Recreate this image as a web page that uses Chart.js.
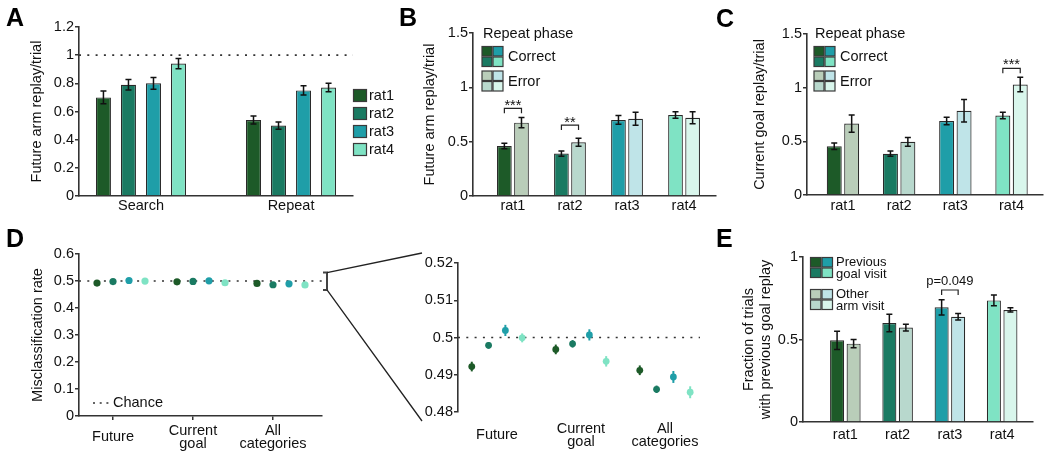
<!DOCTYPE html>
<html><head><meta charset="utf-8">
<script src="https://cdn.jsdelivr.net/npm/chart.js@4.4.1/dist/chart.umd.min.js"></script>
<style>
html,body{margin:0;padding:0;background:#fff;}
#fig{position:relative;width:1050px;height:457px;overflow:hidden;background:#fff;}
#fig canvas{position:absolute;left:0;top:0;}
</style></head><body>
<div id="fig">
<canvas id="cA" width="1050" height="457"></canvas>
<canvas id="cB" width="1050" height="457"></canvas>
<canvas id="cC" width="1050" height="457"></canvas>
<canvas id="cDL" width="1050" height="457"></canvas>
<canvas id="cDR" width="1050" height="457"></canvas>
<canvas id="cE" width="1050" height="457"></canvas>
<canvas id="cDeco" width="1050" height="457"></canvas>
</div>
<script>
// ---------------- data ----------------
const rats = ['rat1','rat2','rat3','rat4'];
const phaseLabels = ['Search','Repeat'];
const searchRate = [0.70, 0.79, 0.80, 0.94];
const searchErr  = [0.045, 0.037, 0.042, 0.036];
const repeatRate = [0.54, 0.50, 0.75, 0.77];
const repeatErr  = [0.028, 0.026, 0.033, 0.030];
const refLineA = 1;

const futureCorrect    = [0.46, 0.39, 0.70, 0.745];
const futureCorrectErr = [0.025, 0.025, 0.040, 0.030];
const futureError      = [0.675, 0.495, 0.71, 0.72];
const futureErrorErr   = [0.048, 0.037, 0.060, 0.055];

const goalCorrect    = [0.455, 0.385, 0.69, 0.74];
const goalCorrectErr = [0.030, 0.025, 0.035, 0.030];
const goalError      = [0.665, 0.495, 0.785, 1.03];
const goalErrorErr   = [0.080, 0.040, 0.105, 0.067];

const decodeCats   = [['Future'], ['Current','goal'], ['All','categories']];
const misFuture    = [0.4922, 0.4979, 0.5019, 0.4999];
const misFutureErr = [0.0013, 0.0009, 0.0015, 0.0012];
const misGoal      = [0.4968, 0.4983, 0.5007, 0.4936];
const misGoalErr   = [0.0013, 0.0010, 0.0015, 0.0014];
const misAll       = [0.4912, 0.4861, 0.4894, 0.4853];
const misAllErr    = [0.0013, 0.0010, 0.0016, 0.0016];
const chanceLevel = 0.5;
const zoomRange = [0.48, 0.52];

const prevGoal    = [0.495, 0.60, 0.695, 0.737];
const prevGoalErr = [0.055, 0.053, 0.046, 0.033];
const otherArm    = [0.475, 0.572, 0.638, 0.679];
const otherArmErr = [0.025, 0.020, 0.020, 0.013];

const ticksA  = [0, 0.2, 0.4, 0.6, 0.8, 1, 1.2];
const ticksBC = [0, 0.5, 1, 1.5];
const ticksDL = [0, 0.1, 0.2, 0.3, 0.4, 0.5, 0.6];
const ticksDR = [0.48, 0.49, 0.5, 0.51, 0.52];
const ticksE  = [0, 0.5, 1];

const sigB = [{rat:0, y:0.807, text:'***'}, {rat:1, y:0.653, text:'**'}];
const sigC = [{rat:3, y:1.18, text:'***'}];
const sigE = [{rat:2, y:0.80, text:'p=0.049'}];

// ---------------- style ----------------
const ratColors = ['#1d5a28','#1a7a62','#1f9ea8','#7fe3c4'];
const ratLight  = ['#b9cdb9','#b8d8cd','#bfe4e8','#d9f6ec'];
const gridOrder = [0, 2, 1, 3];
const FONT = '"Liberation Sans", Arial, Helvetica, sans-serif';
const FS = 14.5;
const AX = '#333';
const TXT = '#111';
const EDGE = '#2a2a2a';
Chart.defaults.font.family = FONT;
Chart.defaults.font.size = FS;
Chart.defaults.color = TXT;

function yWidth(area, titleX){ return titleX ? area.l - (titleX - FS*1.2/2) : 40; }

function yAxis(o){
  return {
    type:'linear', position:'left', min:o.min, max:o.max,
    afterBuildTicks: s => { s.ticks = o.ticks.map(v => ({value:v})); },
    afterFit: s => { s.width = o.w; },
    grid:{display:true, drawOnChartArea:false, drawTicks:true, tickLength:4, color:AX, lineWidth:1.5},
    border:{display:true, color:AX, width:1.6},
    ticks:{padding:1, color:TXT, font:{size:FS}, callback: v => String(+(+v).toFixed(3))},
    title: o.title ? {display:true, text:o.title, color:TXT, padding:0, font:{size:FS, lineHeight:1.2}} : {display:false}
  };
}
function xAxis(o){
  return {
    type:'linear', position:'bottom', min:o.min, max:o.max, offset:false,
    afterBuildTicks: s => { s.ticks = o.tickVals.map(v => ({value:v})); },
    afterFit: s => { s.height = o.h; },
    grid:{display:!!o.marks, drawOnChartArea:false, drawTicks:!!o.marks, tickLength:4, color:AX, lineWidth:1.5, offset:false},
    border:{display:o.border !== false, color:AX, width:1.6},
    ticks:{padding:o.pad, color:TXT, font:{size:FS, lineHeight:o.lh || 1.2}, maxRotation:0, minRotation:0,
           autoSkip:false, crossAlign:o.cross || 'near', callback:(v, i) => o.labels[i]}
  };
}

function drawErr(chart, before){
  const ctx = chart.ctx;
  chart.data.datasets.forEach((ds, di) => {
    if (!ds.errors) return;
    const isPt = ds.errStyle === 'point';
    if (isPt !== before) return;
    const meta = chart.getDatasetMeta(di);
    const ys = chart.scales[meta.yAxisID];
    ctx.save();
    ctx.lineWidth = isPt ? 2 : 1.5;
    ctx.strokeStyle = isPt ? ds.backgroundColor : '#111';
    meta.data.forEach((el, i) => {
      const v = ds.data[i].y, e = ds.errors[i];
      const x = el.x, y1 = ys.getPixelForValue(v - e), y2 = ys.getPixelForValue(v + e);
      ctx.beginPath(); ctx.moveTo(x, y1); ctx.lineTo(x, y2);
      if (!isPt){ ctx.moveTo(x-3, y1); ctx.lineTo(x+3, y1); ctx.moveTo(x-3, y2); ctx.lineTo(x+3, y2); }
      ctx.stroke();
    });
    ctx.restore();
  });
}
const errorBarPlugin = {
  id:'errorBars',
  beforeDatasetsDraw(chart){ drawErr(chart, true); },
  afterDatasetsDraw(chart){ drawErr(chart, false); }
};
function sigPlugin(items, fontSize, dy){
  return {
    id:'sig',
    afterDatasetsDraw(chart){
      const ctx = chart.ctx, ys = chart.scales.y;
      const m0 = chart.getDatasetMeta(0), m1 = chart.getDatasetMeta(1);
      items.forEach(it => {
        const xl = m0.data[it.rat].x, xr = m1.data[it.rat].x;
        const yt = ys.getPixelForValue(it.y), yb = yt + 5;
        ctx.save();
        ctx.strokeStyle = '#222'; ctx.lineWidth = 1.2;
        ctx.beginPath(); ctx.moveTo(xl, yb); ctx.lineTo(xl, yt); ctx.lineTo(xr, yt); ctx.lineTo(xr, yb); ctx.stroke();
        ctx.fillStyle = TXT; ctx.font = fontSize + 'px ' + FONT;
        ctx.textAlign = 'center'; ctx.textBaseline = 'alphabetic';
        ctx.fillText(it.text, (xl + xr) / 2, yt + dy);
        ctx.restore();
      });
    }
  };
}
function cell(ctx, x, y, w, h, color){
  ctx.fillStyle = color; ctx.fillRect(x, y, w, h);
  ctx.strokeStyle = '#3a3a3a'; ctx.lineWidth = 1.2; ctx.strokeRect(x, y, w, h);
}
function grid2(ctx, x, y, cw, ch, cols){
  gridOrder.forEach((ri, k) => {
    const cx = x + (k % 2) * (cw + 1), cy = y + Math.floor(k / 2) * (ch + 1);
    cell(ctx, cx, cy, cw, ch, cols[ri]);
  });
}
function txt(ctx, s, x, y, size){
  ctx.fillStyle = TXT; ctx.font = (size || FS) + 'px ' + FONT;
  ctx.textAlign = 'left'; ctx.textBaseline = 'middle'; ctx.fillText(s, x, y);
}
function phaseLegend(x0){
  return {
    id:'phaseLegend',
    afterDraw(chart){
      const ctx = chart.ctx; ctx.save();
      txt(ctx, 'Repeat phase', x0 + 1, 34);
      grid2(ctx, x0, 46.5, 10, 9.5, ratColors);
      txt(ctx, 'Correct', x0 + 26, 56.5);
      grid2(ctx, x0, 71, 10, 9.5, ratLight);
      txt(ctx, 'Error', x0 + 26, 81.5);
      ctx.restore();
    }
  };
}

function mk(id, type, datasets, area, yOpts, xOpts, plugins){
  const w = yWidth(area, yOpts.titleX);
  yOpts.w = w;
  xOpts.h = 457 - area.b;
  return new Chart(document.getElementById(id), {
    type,
    data:{datasets},
    options:{
      responsive:false, maintainAspectRatio:false, animation:false, events:[], devicePixelRatio:1,
      layout:{autoPadding:false, padding:{left:area.l - w, right:1050 - area.r, top:area.t, bottom:0}},
      scales:{x:xAxis(xOpts), y:yAxis(yOpts)},
      plugins:{legend:{display:false}, tooltip:{enabled:false}}
    },
    plugins:[errorBarPlugin].concat(plugins || [])
  });
}
function dotted(x0, x1, y){
  return {type:'line', data:[{x:x0, y}, {x:x1, y}], borderColor:AX, borderWidth:1.7,
          borderDash:[2, 6.3], pointRadius:0, order:10, fill:false};
}
function barSet(vals, errs, colors, cp, bp){
  return {type:'bar', data:vals.map((v, i) => ({x:i, y:v})), errors:errs, backgroundColor:colors,
          borderColor:EDGE, borderWidth:1.2, categoryPercentage:cp, barPercentage:bp};
}

// ---------------- Panel A ----------------
const areaA = {l:79, r:353, t:27, b:196};
const xA = [-0.413, 1.413];
const phaseRates = [searchRate, repeatRate];
const phaseErrs = [searchErr, repeatErr];
const dsA = rats.map((r, i) => ({
  type:'bar', label:r,
  data: phaseLabels.map((p, g) => ({x:g, y:phaseRates[g][i]})),
  errors: phaseErrs.map(e => e[i]),
  backgroundColor: ratColors[i], borderColor:EDGE, borderWidth:1.2,
  categoryPercentage:0.667, barPercentage:0.6
}));
dsA.push(dotted(xA[0], xA[1] + 0.015, refLineA));
const legendA = {
  id:'legendA',
  afterDraw(chart){
    const ctx = chart.ctx; ctx.save();
    rats.forEach((r, i) => {
      const cy = 95.5 + i * 18;
      cell(ctx, 353.5, cy - 6, 13, 12, ratColors[i]);
      txt(ctx, r, 369, cy + 0.5);
    });
    ctx.restore();
  }
};
mk('cA', 'bar', dsA, areaA,
   {min:0, max:1.2, ticks:ticksA, title:'Future arm replay/trial', titleX:37},
   {min:xA[0], max:xA[1], tickVals:[0, 1], labels:phaseLabels, pad:1}, [legendA]);

// ---------------- Panel B ----------------
const areaB = {l:473, r:716, t:33, b:196};
mk('cB', 'bar', [
    barSet(futureCorrect, futureCorrectErr, ratColors, 0.6, 0.86),
    barSet(futureError, futureErrorErr, ratLight, 0.6, 0.86)
  ], areaB,
  {min:0, max:1.5, ticks:ticksBC, title:'Future arm replay/trial', titleX:430},
  {min:-0.70, max:3.56, tickVals:[0, 1, 2, 3], labels:rats, pad:1},
  [sigPlugin(sigB, 14.5, 2), phaseLegend(482)]);

// ---------------- Panel C ----------------
const areaC = {l:807, r:1043, t:34, b:195};
mk('cC', 'bar', [
    barSet(goalCorrect, goalCorrectErr, ratColors, 0.62, 0.86),
    barSet(goalError, goalErrorErr, ratLight, 0.62, 0.86)
  ], areaC,
  {min:0, max:1.5, ticks:ticksBC, title:'Current goal replay/trial', titleX:760.4},
  {min:-0.64, max:3.56, tickVals:[0, 1, 2, 3], labels:rats, pad:2.5},
  [sigPlugin(sigC, 14.5, 1), phaseLegend(814)]);

// ---------------- Panel D (left, full range) ----------------
const misByCat = [misFuture, misGoal, misAll];
const misErrByCat = [misFutureErr, misGoalErr, misAllErr];
const areaDL = {l:79, r:322, t:254, b:416};
const xDL = [-0.425, 2.6125];
const dsDL = rats.map((r, ri) => ({
  type:'scatter', label:r,
  data: misByCat.map((arr, g) => ({x:g + (ri - 1) * 0.2, y:arr[ri]})),
  pointRadius:3.6, backgroundColor:ratColors[ri], borderWidth:0
}));
dsDL.push(dotted(xDL[0], xDL[1], chanceLevel));
const legendDL = {
  id:'legendDL',
  afterDraw(chart){
    const ctx = chart.ctx; ctx.save();
    ctx.strokeStyle = AX; ctx.lineWidth = 1.7; ctx.setLineDash([2, 4.7]);
    ctx.beginPath(); ctx.moveTo(93, 403); ctx.lineTo(109, 403); ctx.stroke();
    ctx.setLineDash([]);
    txt(ctx, 'Chance', 113, 403);
    ctx.restore();
  }
};
const chartDL = mk('cDL', 'scatter', dsDL, areaDL,
  {min:0, max:0.6, ticks:ticksDL, title:'Misclassification rate', titleX:38},
  {min:xDL[0], max:xDL[1], tickVals:[0, 1, 2], labels:decodeCats, pad:11, lh:0.876, cross:'center', marks:true},
  [legendDL]);

// ---------------- Panel D (right, zoom) ----------------
const areaDR = {l:458, r:700, t:263, b:412};
const xDR = [-0.464, 2.417];
const dsDR = rats.map((r, ri) => ({
  type:'scatter', label:r,
  data: misByCat.map((arr, g) => ({x:g + (ri - 1.5) * 0.2, y:arr[ri]})),
  errors: misErrByCat.map(e => e[ri]), errStyle:'point',
  pointRadius:3.4, backgroundColor:ratColors[ri], borderWidth:0
}));
dsDR.push(dotted(xDR[0], xDR[1], chanceLevel));
const chartDR = mk('cDR', 'scatter', dsDR, areaDR,
  {min:zoomRange[0], max:zoomRange[1], ticks:ticksDR},
  {min:xDR[0], max:xDR[1], tickVals:[0, 1, 2], labels:decodeCats, pad:17, lh:0.876, cross:'center', border:false});

// ---------------- Panel E ----------------
const areaE = {l:803, r:1033, t:257, b:422};
const legendE = {
  id:'legendE',
  afterDraw(chart){
    const ctx = chart.ctx; ctx.save();
    grid2(ctx, 810.5, 257.5, 10.5, 9.5, ratColors);
    txt(ctx, 'Previous', 836, 262.5, 13);
    txt(ctx, 'goal visit', 836, 274, 13);
    grid2(ctx, 810.5, 289.5, 10.5, 9.5, ratLight);
    txt(ctx, 'Other', 836, 294, 13);
    txt(ctx, 'arm visit', 836, 306.5, 13);
    ctx.restore();
  }
};
mk('cE', 'bar', [
    barSet(prevGoal, prevGoalErr, ratColors, 0.632, 0.85),
    barSet(otherArm, otherArmErr, ratLight, 0.632, 0.85)
  ], areaE,
  {min:0, max:1, ticks:ticksE, title:['Fraction of trials', 'with previous goal replay'], titleX:749},
  {min:-0.81, max:3.59, tickVals:[0, 1, 2, 3], labels:rats, pad:4.7},
  [sigPlugin(sigE, 13, -5), legendE]);

// ---------------- decorations: panel letters, zoom bracket ----------------
const dc = document.getElementById('cDeco').getContext('2d');
dc.fillStyle = '#000'; dc.font = 'bold 25px ' + FONT; dc.textBaseline = 'alphabetic'; dc.textAlign = 'left';
[['A', 6, 26], ['B', 399, 26], ['C', 716, 27], ['D', 6, 247], ['E', 716, 247]].forEach(([s, x, y]) => dc.fillText(s, x, y));
const yl = chartDL.scales.y, yr = chartDR.scales.y;
const bx = chartDL.chartArea.right + 5;
const bt = yl.getPixelForValue(zoomRange[1]) - 3, bb = yl.getPixelForValue(zoomRange[0]) + 3.5;
dc.strokeStyle = '#444'; dc.lineWidth = 2;
dc.beginPath(); dc.moveTo(bx - 4, bt); dc.lineTo(bx, bt); dc.lineTo(bx, bb); dc.lineTo(bx - 4, bb); dc.stroke();
const ex = chartDR.chartArea.left - 36;
dc.strokeStyle = '#222'; dc.lineWidth = 1.3;
dc.beginPath();
dc.moveTo(bx, bt); dc.lineTo(ex, yr.getPixelForValue(zoomRange[1]) - 10);
dc.moveTo(bx, bb); dc.lineTo(ex, yr.getPixelForValue(zoomRange[0]) + 9);
dc.stroke();
</script>
</body></html>
